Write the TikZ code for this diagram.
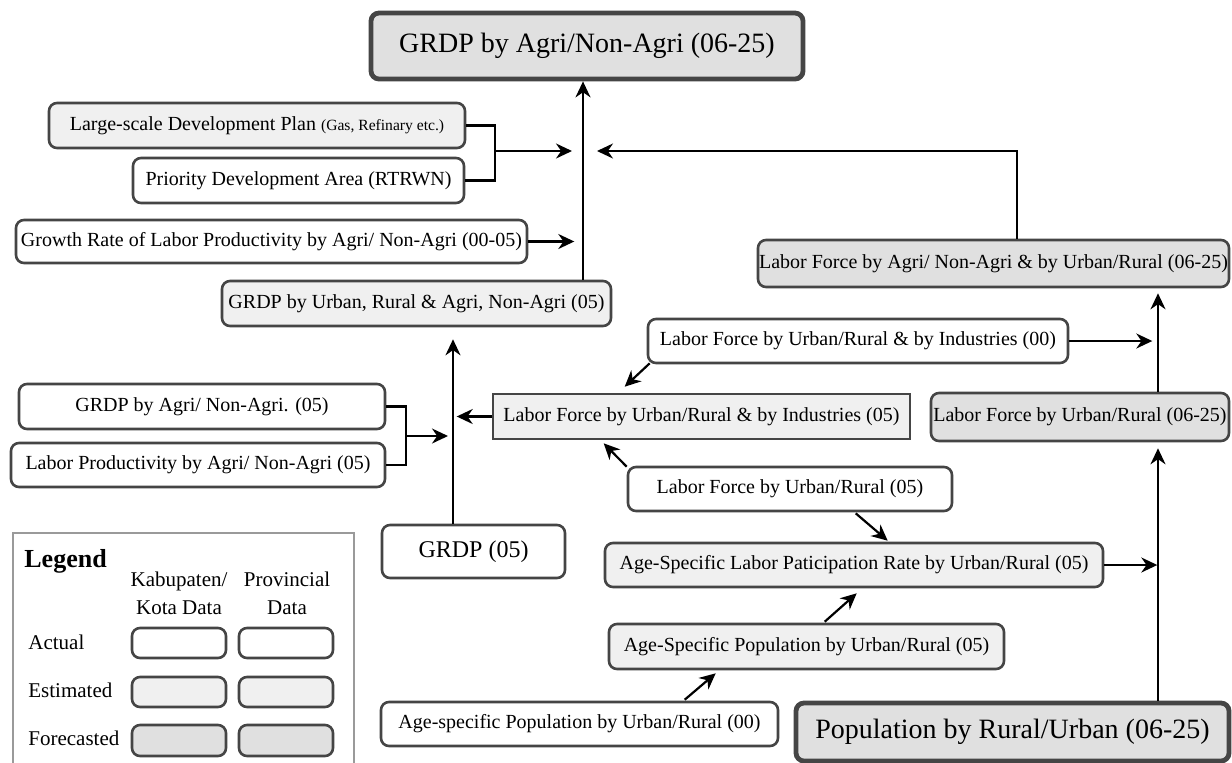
\documentclass[tikz,border=0pt]{standalone}
\usepackage{fontspec}
\setmainfont{Liberation Serif}
\usetikzlibrary{arrows.meta,calc}

\definecolor{edge}{HTML}{454545}
\definecolor{estfill}{HTML}{F0F0F0}
\definecolor{forfill}{HTML}{E0E0E0}
\definecolor{legframe}{HTML}{9A9A9A}

\tikzset{
  base/.style={draw=edge, line width=1.3pt, rounded corners=4pt, inner sep=0pt,
    align=center, font=\fontsize{10}{12}\selectfont},
  actual/.style={base, fill=white},
  estimated/.style={base, fill=estfill},
  forecast/.style={base, fill=forfill},
  bigbox/.style={forecast, line width=2.4pt, font=\fontsize{14}{17}\selectfont},
  sz/.style 2 args={minimum width=#1*0.5pt, minimum height=#2*0.5pt},
  arr/.style={-{Stealth[length=8pt,width=7.5pt,inset=2.6pt]}, line width=1.1pt},
  link/.style={line width=1.2pt},
  legtext/.style={inner sep=0pt, font=\fontsize{10.5}{14}\selectfont, align=center},
}

\begin{document}
\begin{tikzpicture}[x=0.5pt,y=-0.5pt]
\useasboundingbox (0,0) rectangle (1232,762);

% ---- boxes ----
\node[bigbox, sz={432}{66}] (title) at (587,46) {GRDP by Agri/Non-Agri (06-25)};
\node[estimated, sz={416}{45}] (large) at (257,125.5)
  {Large-scale Development Plan {\fontsize{7.8}{9}\selectfont(Gas, Refinary etc.)}};
\node[actual, sz={331}{45}] (prio) at (298.5,180.5) {Priority Development Area (RTRWN)};
\node[actual, sz={511}{43}] (growth) at (271.5,241.5)
  {Growth Rate of Labor Productivity by Agri/ Non-Agri (00-05)};
\node[estimated, sz={389}{45}] (grdpur) at (416.5,303.5) {GRDP by Urban, Rural \& Agri, Non-Agri (05)};
\node[forecast, sz={471}{47}] (lfa) at (993.5,263.5)
  {Labor Force by Agri/ Non-Agri \& by Urban/Rural (06-25)};
\node[actual, sz={420}{44}] (lf00) at (858,341) {Labor Force by Urban/Rural \& by Industries (00)};
\node[actual, sz={366}{45}] (grdpagri) at (202,406.5) {GRDP by Agri/ Non-Agri. (05)};
\node[actual, sz={374}{44}] (lp) at (198,465) {Labor Productivity by Agri/ Non-Agri (05)};
\node[estimated, sharp corners, sz={417}{45}] (lfind05) at (701.5,416.5)
  {Labor Force by Urban/Rural \& by Industries (05)};
\node[forecast, sz={298}{48}] (lfur0625) at (1080,417) {Labor Force by Urban/Rural (06-25)};
\node[actual, sz={324}{44}] (lfur05) at (790,489) {Labor Force by Urban/Rural (05)};
\node[actual, sz={183}{53}, font=\fontsize{12}{14}\selectfont] (grdp05) at (473.5,551.5) {GRDP (05)};
\node[estimated, sz={498}{44}] (lpr) at (854,565)
  {Age-Specific Labor Paticipation Rate by Urban/Rural (05)};
\node[estimated, sz={395}{45}] (asp05) at (806.5,646.5) {Age-Specific Population by Urban/Rural (05)};
\node[actual, sz={397}{44}] (asp00) at (579.5,724) {Age-specific Population by Urban/Rural (00)};
\node[bigbox, sz={433}{58}] (pop) at (1012.5,732) {Population by Rural/Urban (06-25)};

% ---- guide coordinates ----
\coordinate (lx) at (583,0);
\coordinate (gx) at (453,0);
\coordinate (rx) at (1158,0);
\coordinate (bk1) at (495,151);
\coordinate (bk1tip) at (572,151);
\coordinate (lfaup) at (1017,151);
\coordinate (lfatip) at (597,151);
\coordinate (bk2) at (406,436);

% ---- left trunk ----
\draw[arr] (grdpur.north -| lx) -- (title.south -| lx);
\draw[link] (large.east) -| (bk1) |- (prio.east);
\draw[arr] (bk1) -- (bk1tip);
\draw[arr] (lfa.north -| lfaup) |- (lfatip);
\draw[arr] (growth.east) -- ++(46,0);
\draw[arr, shorten >=6pt] (grdp05.north -| gx) -- (grdpur.south -| gx);
\draw[link] (grdpagri.east) -| (bk2) |- (lp.east);
\draw[arr] (bk2) -- ++(42,0);
\draw[arr] (lfind05.west) -- ++(-35,0);

% ---- labour force chain ----
\draw[arr] ($(lf00.south west)+(3,-1)$) -- ($(lfind05.north west)+(133,-6)$);
\draw[arr] (lf00.east) -- ++(83,0);
\draw[arr] ($(lfur05.north west)+(0,1)$) -- ($(lfind05.south west)+(112,3)$);
\draw[arr] ($(lfur05.south west)+(229,1)$) -- ($(lpr.north west)+(284,-1)$);
\draw[arr] ($(asp05.north west)+(217,-1)$) -- ($(lpr.south west)+(253,5)$);
\draw[arr] ($(asp00.north west)+(305,-1)$) -- ($(asp05.south west)+(108,3)$);
\draw[arr] (lpr.east) -- ++(53,0);

% ---- right trunk ----
\draw[arr, shorten >=2.5pt] (lfur0625.north -| rx) -- (lfa.south -| rx);
\draw[arr, shorten >=3pt] (pop.north -| rx) -- (lfur0625.south -| rx);

% ---- legend ----
\draw[legframe, line width=0.8pt] (13,770) -- (13,533) -- (354,533) -- (354,770);
\node[anchor=base west, inner sep=0pt, font=\bfseries\fontsize{13}{15}\selectfont] (leg) at (24,567) {Legend};
\node[legtext] (kab) at (179,593) {Kabupaten/\\Kota Data};
\node[legtext] (prov) at (287,593) {Provincial\\Data};
\node[legtext, anchor=west] (lact) at (28,642) {Actual};
\node[legtext, anchor=west] (lest) at (28,690) {Estimated};
\node[legtext, anchor=west] (lfor) at (28,738) {Forecasted};
\node[actual, sz={94}{30}] (ka) at (179,643) {};
\node[actual, sz={94}{30}] (pa) at (286,643) {};
\node[estimated, sz={94}{30}] (ke) at (179,692) {};
\node[estimated, sz={94}{30}] (pe) at (286,692) {};
\node[forecast, sz={94}{31}] (kf) at (179,740.5) {};
\node[forecast, sz={94}{31}] (pf) at (286,740.5) {};
\end{tikzpicture}
\end{document}
